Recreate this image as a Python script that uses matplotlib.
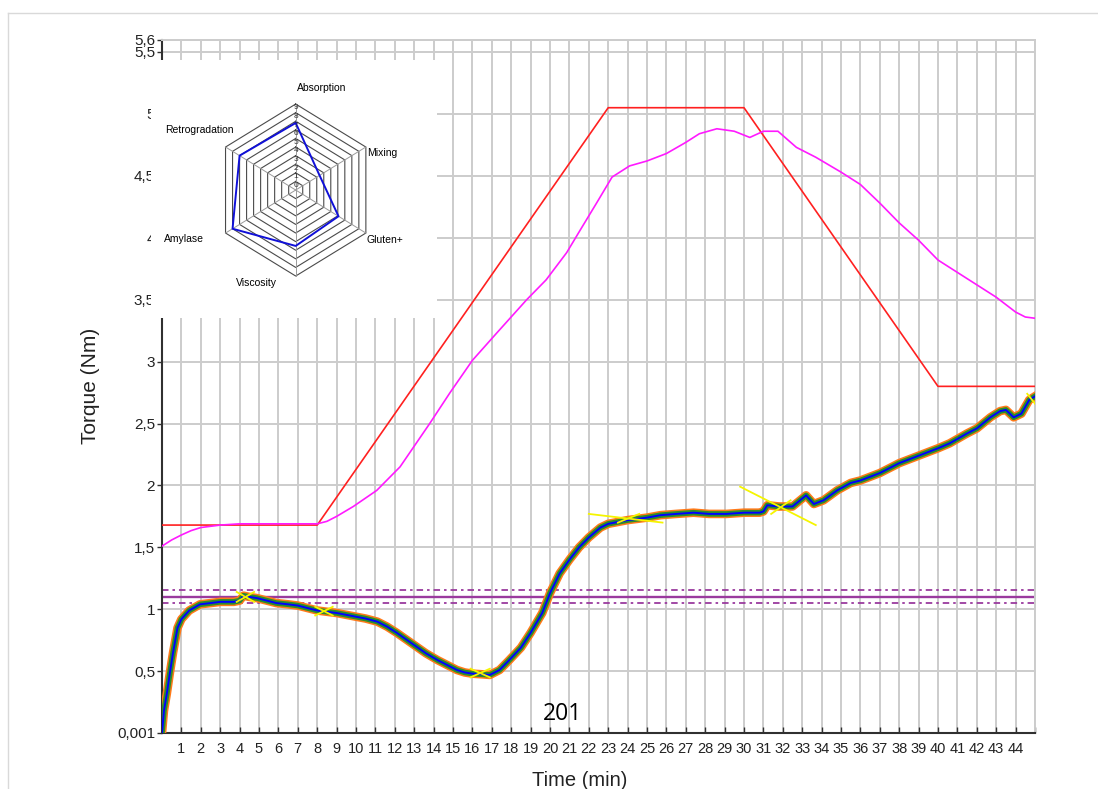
import matplotlib
matplotlib.use("Agg")
import matplotlib.pyplot as plt
from matplotlib.lines import Line2D
import numpy as np

plt.rcParams['font.family'] = ['Liberation Sans', 'DejaVu Sans']

# torque curve (Nm) vs time (min)
torque_t = [0, 0.1, 0.25, 0.4, 0.57, 0.8, 1.0, 1.4, 1.96, 2.5,
            3.0, 3.7, 4.0, 4.2, 4.5, 4.9, 5.4, 5.9, 6.5, 7.0,
            7.5, 8.0, 8.5, 9.0, 9.5, 10.0, 10.5, 11.1, 11.6, 12.1,
            12.6, 13.1, 13.6, 14.2, 14.7, 15.2, 15.6, 16.0, 16.5, 16.9,
            17.4, 17.9, 18.5, 19.0, 19.3, 19.6, 20.0, 20.5, 21.0, 21.5,
            22.0, 22.6, 23.0, 24.0, 25.0, 25.7, 26.5, 27.4, 28.2, 29.1,
            30.0, 30.8, 31.0, 31.2, 31.8, 32.5, 33.2, 33.6, 34.1, 34.8,
            35.5, 36.0, 37.0, 38.0, 39.0, 40.0, 40.6, 41.5, 42.0, 42.7,
            43.2, 43.5, 43.9, 44.3, 44.7, 45.0]
torque_nm = [0.001, 0.18, 0.32, 0.48, 0.65, 0.85, 0.92, 0.99, 1.04, 1.05,
             1.06, 1.06, 1.07, 1.11, 1.10, 1.09, 1.07, 1.05, 1.04, 1.03,
             1.01, 0.99, 0.98, 0.97, 0.955, 0.94, 0.925, 0.90, 0.86, 0.81,
             0.755, 0.70, 0.645, 0.59, 0.55, 0.51, 0.49, 0.48, 0.475, 0.47,
             0.51, 0.59, 0.69, 0.81, 0.89, 0.97, 1.13, 1.29, 1.40, 1.50,
             1.58, 1.66, 1.69, 1.72, 1.74, 1.76, 1.77, 1.78, 1.77, 1.77,
             1.78, 1.78, 1.79, 1.84, 1.83, 1.83, 1.92, 1.85, 1.88, 1.96,
             2.02, 2.04, 2.10, 2.18, 2.24, 2.30, 2.34, 2.42, 2.46, 2.55,
             2.60, 2.61, 2.55, 2.58, 2.69, 2.72]

# set temperature profile (red) and measured temperature (magenta)
red_t = [0, 8, 23, 30, 40, 45]
red_nm = [1.68, 1.68, 5.05, 5.05, 2.8, 2.8]

mag_t = [0, 0.5, 1, 1.5, 2, 3, 4, 8, 8.5, 9, 9.86, 11.07, 12.27, 13.8, 14.85,
         16.0, 17.25, 18.8, 19.8, 20.86, 21.55, 22.4, 23.2, 24.1, 25, 26, 27,
         27.7, 28.6, 29.5, 30.3, 31, 31.75, 32.7, 33.7, 35, 36, 37, 38, 39,
         40, 41, 42, 43, 44, 44.5, 45]
mag_nm = [1.51, 1.56, 1.60, 1.635, 1.66, 1.68, 1.69, 1.69, 1.71, 1.75, 1.83,
          1.96, 2.15, 2.50, 2.75, 3.01, 3.23, 3.50, 3.66, 3.88, 4.06, 4.28,
          4.49, 4.58, 4.62, 4.68, 4.77, 4.84, 4.88, 4.86, 4.81, 4.86, 4.86,
          4.73, 4.65, 4.53, 4.43, 4.28, 4.12, 3.98, 3.82, 3.72, 3.62, 3.52,
          3.40, 3.36, 3.35]

# tolerance lines
tol_levels = [1.155, 1.096, 1.048]
tol_styles = ['dashdot', 'solid', 'dashdot']

# yellow tangent marks
tan_x0 = [3.85, 3.85, 7.9, 7.9, 15.9, 15.9, 22.0, 23.5, 29.8, 31.4, 44.6]
tan_y0 = [1.14, 1.06, 1.02, 0.95, 0.52, 0.45, 1.77, 1.70, 1.99, 1.77, 2.74]
tan_x1 = [4.75, 4.75, 8.8, 8.8, 16.9, 16.9, 25.8, 24.6, 33.7, 32.4, 45.0]
tan_y1 = [1.06, 1.14, 0.95, 1.02, 0.45, 0.52, 1.70, 1.77, 1.68, 1.88, 2.66]

x_ticks = list(range(0, 46))
x_labels = [''] + [str(i) for i in range(1, 45)] + ['']
y_ticks = [0.001, 0.5, 1, 1.5, 2, 2.5, 3, 3.5, 4, 4.5, 5, 5.5, 5.6]
y_labels = ['0,001', '0,5', '1', '1,5', '2', '2,5', '3', '3,5', '4', '4,5',
            '5', '5,5', '5,6']

# radar inset
radar_axes = ['Absorption', 'Mixing', 'Gluten+', 'Viscosity', 'Amylase',
              'Retrogradation']
radar_angles = [90, 30, -30, -90, -150, 150]
radar_values = [6.8, 2.4, 5.1, 5.5, 8.0, 7.0]
ring_labels = [str(i) for i in range(10)]

W, H = 1098, 789
fig = plt.figure(figsize=(W / 100, H / 100), dpi=100)
fig.patch.set_facecolor('white')

# screenshot frame
fig.add_artist(Line2D([8 / W, 8 / W], [0, 1 - 13 / H], color='#d9d9d9', lw=1))
fig.add_artist(Line2D([8 / W, 1], [1 - 13 / H, 1 - 13 / H], color='#d9d9d9', lw=1))

ax = fig.add_axes([162 / W, 1 - 733 / H, (1035 - 162) / W, (733 - 39.6) / H])
ax.set_xlim(0, 45)
ax.set_ylim(0.001, 5.6)
ax.set_xticks(x_ticks)
ax.set_xticklabels(x_labels, fontsize=10.5)
ax.set_yticks(y_ticks)
ax.set_yticklabels(y_labels, fontsize=11)
ax.grid(True, color='#cccccc', lw=1.4)
ax.set_axisbelow(True)
for s in ['top', 'right']:
    ax.spines[s].set_color('#cccccc')
    ax.spines[s].set_linewidth(1.4)
for s in ['left', 'bottom']:
    ax.spines[s].set_color('#303030')
    ax.spines[s].set_linewidth(1.5)
ax.tick_params(axis='x', direction='in', length=4, width=1, color='#303030',
               pad=6.5, labelcolor='#222222')
ax.tick_params(axis='y', direction='out', length=3.5, width=1, color='#303030',
               pad=1.5, labelcolor='#222222')

for lev, st in zip(tol_levels, tol_styles):
    if st == 'solid':
        ax.axhline(lev, color='#9a3a9e', lw=1.7, zorder=2)
    else:
        ax.axhline(lev, color='#9a3a9e', lw=1.3, dashes=(3.6, 2.2, 1.4, 2.2), zorder=2)

ax.plot(red_t, red_nm, color='#ff2020', lw=1.2, zorder=3)
ax.plot(mag_t, mag_nm, color='#ff1aff', lw=1.2, zorder=3)

ax.plot(torque_t, torque_nm, color='#ff7a1a', lw=6.2, zorder=4, solid_joinstyle='round')
ax.plot(torque_t, torque_nm, color='#2a8f2a', lw=4.0, zorder=5, solid_joinstyle='round')
ax.plot(torque_t, torque_nm, color='#0000ff', lw=1.4, zorder=6)
for x0, y0, x1, y1 in zip(tan_x0, tan_y0, tan_x1, tan_y1):
    ax.plot([x0, x1], [y0, y1], color='#f5f500', lw=1.3, zorder=7)

ax.set_ylabel('Torque (Nm)', fontsize=15, color='#222222')
ax.yaxis.set_label_coords(-0.071, 0.5)
ax.set_xlabel('Time (min)', fontsize=14.5, color='#222222')
ax.xaxis.set_label_coords(0.479, -0.068)
ax.xaxis.label.set_va('center')

fig.text(562 / W, 1 - 714 / H, '201', fontsize=16.5, family='Open Sans',
         ha='center', va='center', color='black')

# radar inset
ins = fig.add_axes([151 / W, 1 - 318 / H, (437 - 151) / W, (318 - 60) / H])
ins.set_facecolor('white')
ins.set_xticks([])
ins.set_yticks([])
for s in ins.spines.values():
    s.set_visible(False)
ins.set_xlim(-17.86, 17.44)
ins.set_ylim(-14.88, 15.12)

ang = np.deg2rad(radar_angles + [radar_angles[0]])
for r in range(1, 11):
    ins.plot(r * np.cos(ang), r * np.sin(ang), color='#4a4a4a', lw=0.8)
for a in np.deg2rad(radar_angles):
    ins.plot([0, 10 * np.cos(a)], [0, 10 * np.sin(a)], color='#9a9a9a', lw=0.7)
for i, lab in enumerate(ring_labels):
    ins.text(0.05, i + 0.55, lab, fontsize=6, ha='center', va='center', color='#333333')
rv = np.array(radar_values + [radar_values[0]]) + 1
ins.plot(rv * np.cos(ang), rv * np.sin(ang), color='#1010d8', lw=1.4)

ins.text(3.25, 11.9, 'Absorption', fontsize=7.5, ha='center', va='center')
ins.text(8.8, 4.3, 'Mixing', fontsize=7.5, ha='left', va='center')
ins.text(8.8, -5.8, 'Gluten+', fontsize=7.5, ha='left', va='center')
ins.text(-4.9, -10.8, 'Viscosity', fontsize=7.5, ha='center', va='center')
ins.text(-11.3, -5.7, 'Amylase', fontsize=7.5, ha='right', va='center')
ins.text(-7.7, 7.0, 'Retrogradation', fontsize=7.5, ha='right', va='center')

fig.savefig('out.png', dpi=100)
